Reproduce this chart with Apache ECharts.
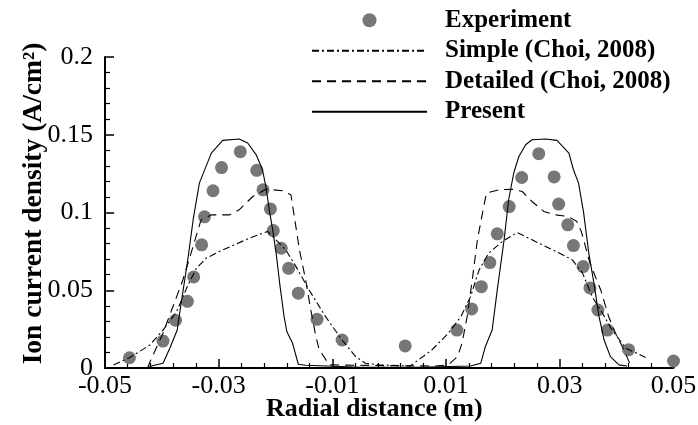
<!DOCTYPE html>
<html>
<head>
<meta charset="utf-8">
<script src="https://cdn.jsdelivr.net/npm/echarts@6/dist/echarts.min.js"></script>
<style>
  html, body { margin: 0; padding: 0; background: #fff; }
  #chart { width: 698px; height: 425px; }
</style>
</head>
<body>
<div id="chart"></div>
<script>
// Radial profile of ion current density: measurement vs. three models.
const seriesNames = ['Experiment', 'Simple (Choi, 2008)', 'Detailed (Choi, 2008)', 'Present'];

// Measured points [radial distance (m), current density (A/cm^2)]
const experiment = [
  [-0.0457, 0.0066], [-0.0398, 0.0173], [-0.0376, 0.0307], [-0.0355, 0.0429],
  [-0.0344, 0.0586], [-0.0330, 0.0792], [-0.0325, 0.0972], [-0.0310, 0.1140],
  [-0.0295, 0.1289], [-0.0262, 0.1391], [-0.0233, 0.1271], [-0.0222, 0.1146],
  [-0.0209, 0.1023], [-0.0204, 0.0884], [-0.0190, 0.0770], [-0.0177, 0.0641],
  [-0.0160, 0.0481], [-0.0127, 0.0313], [-0.0083, 0.0180], [0.0028, 0.0142],
  [0.0119, 0.0244], [0.0145, 0.0380], [0.0162, 0.0523], [0.0177, 0.0678],
  [0.0190, 0.0863], [0.0211, 0.1038], [0.0233, 0.1225], [0.0263, 0.1378],
  [0.0290, 0.1229], [0.0298, 0.1054], [0.0314, 0.0921], [0.0324, 0.0787],
  [0.0341, 0.0652], [0.0353, 0.0515], [0.0367, 0.0373], [0.0384, 0.0244],
  [0.0421, 0.0118], [0.0500, 0.0045]
];

// Simple model
const simpleModel = [
  [-0.0485, 0.0020], [-0.0457, 0.0066], [-0.0421, 0.0148], [-0.0398, 0.0244],
  [-0.0374, 0.0362], [-0.0354, 0.0534], [-0.0339, 0.0642], [-0.0322, 0.0706],
  [-0.0299, 0.0749], [-0.0246, 0.0835], [-0.0214, 0.0878], [-0.0205, 0.0845],
  [-0.0182, 0.0759], [-0.0164, 0.0652], [-0.0141, 0.0502], [-0.0112, 0.0330],
  [-0.0083, 0.0180], [-0.0059, 0.0073], [-0.0042, 0.0031], [-0.0018, 0.0020],
  [0.0037, 0.0013], [0.0075, 0.0116], [0.0104, 0.0224], [0.0126, 0.0330],
  [0.0143, 0.0459], [0.0158, 0.0630], [0.0175, 0.0739], [0.0199, 0.0814],
  [0.0225, 0.0871], [0.0257, 0.0814], [0.0299, 0.0739], [0.0322, 0.0695],
  [0.0340, 0.0610], [0.0357, 0.0459], [0.0375, 0.0353], [0.0392, 0.0244],
  [0.0416, 0.0127], [0.0451, 0.0068]
];

// Detailed model
const detailedModel = [
  [-0.0425, 0.0000], [-0.0421, 0.0039], [-0.0398, 0.0224], [-0.0363, 0.0566],
  [-0.0331, 0.0952], [-0.0313, 0.0985], [-0.0281, 0.0985], [-0.0264, 0.1017],
  [-0.0240, 0.1103], [-0.0217, 0.1150], [-0.0188, 0.1140], [-0.0173, 0.1114],
  [-0.0167, 0.0974], [-0.0158, 0.0759], [-0.0147, 0.0566], [-0.0138, 0.0373],
  [-0.0129, 0.0202], [-0.0123, 0.0116], [-0.0115, 0.0073], [-0.0106, 0.0020],
  [0.0000, 0.0015], [0.0081, 0.0013], [0.0104, 0.0020], [0.0120, 0.0073],
  [0.0128, 0.0159], [0.0137, 0.0330], [0.0146, 0.0566], [0.0155, 0.0824],
  [0.0164, 0.0996], [0.0171, 0.1125], [0.0193, 0.1146], [0.0216, 0.1150],
  [0.0234, 0.1135], [0.0251, 0.1071], [0.0272, 0.1007], [0.0292, 0.0985],
  [0.0315, 0.0974], [0.0330, 0.0942], [0.0338, 0.0876], [0.0353, 0.0674],
  [0.0372, 0.0502], [0.0386, 0.0330], [0.0398, 0.0224], [0.0410, 0.0137],
  [0.0418, 0.0073], [0.0423, 0.0031]
];

// Present model
const presentModel = [
  [-0.0422, 0.0010], [-0.0398, 0.0030], [-0.0386, 0.0127], [-0.0373, 0.0244],
  [-0.0366, 0.0417], [-0.0354, 0.0706], [-0.0345, 0.0952], [-0.0334, 0.1189],
  [-0.0313, 0.1382], [-0.0293, 0.1464], [-0.0264, 0.1473], [-0.0249, 0.1447],
  [-0.0234, 0.1371], [-0.0223, 0.1275], [-0.0217, 0.1167], [-0.0211, 0.1017],
  [-0.0205, 0.0888], [-0.0199, 0.0739], [-0.0192, 0.0523], [-0.0185, 0.0330],
  [-0.0180, 0.0233], [-0.0170, 0.0159], [-0.0160, 0.0024], [-0.0147, 0.0018],
  [-0.0050, 0.0005], [0.0050, 0.0005],
  [0.0143, 0.0013], [0.0161, 0.0031], [0.0169, 0.0137], [0.0181, 0.0244],
  [0.0190, 0.0502], [0.0202, 0.0824], [0.0210, 0.1082], [0.0219, 0.1254],
  [0.0228, 0.1360], [0.0240, 0.1436], [0.0251, 0.1468], [0.0275, 0.1473],
  [0.0295, 0.1464], [0.0316, 0.1382], [0.0324, 0.1275], [0.0333, 0.1189],
  [0.0342, 0.0996], [0.0351, 0.0739], [0.0360, 0.0546], [0.0369, 0.0330],
  [0.0378, 0.0180], [0.0389, 0.0073], [0.0404, 0.0020], [0.0418, 0.0013]
];

// Axis ranges and tick steps
const xRange = [-0.05, 0.05];
const xStep = 0.02;
const yRange = [0, 0.2];
const yStep = 0.05;

const FONT = '"Liberation Serif", "DejaVu Serif", serif';

const chart = echarts.init(document.getElementById('chart'), null, { renderer: 'canvas' });

const lineSeries = (name, data, dash) => ({
  name,
  type: 'line',
  data,
  symbol: 'none',
  symbolSize: 0,
  showSymbol: false,
  smooth: false,
  lineStyle: { color: '#000', width: 1.1, type: dash },
  itemStyle: { color: '#000' },
  z: 3
});

// Legend rows: the lines carry no marker
const legendItems = seriesNames.map((name, i) => i === 0
  ? { name }
  : { name, itemStyle: { color: 'rgba(0,0,0,0)', borderColor: 'rgba(0,0,0,0)', borderWidth: 0 } });

chart.setOption({
  animation: false,
  backgroundColor: '#fff',
  grid: { left: 105, right: 24.5, top: 57, bottom: 57, containLabel: false, outerBoundsMode: 'none' },
  legend: {
    data: legendItems,
    orient: 'vertical',
    left: 306,
    top: 0,
    itemWidth: 115,
    itemHeight: 14,
    itemGap: 0,
    textStyle: {
      fontFamily: FONT,
      fontWeight: 'bold',
      fontSize: 25,
      color: '#000',
      lineHeight: 30.5,
      padding: [0, 0, 0, 13]
    }
  },
  xAxis: {
    type: 'value',
    min: xRange[0],
    max: xRange[1],
    interval: xStep,
    name: 'Radial distance (m)',
    nameLocation: 'middle',
    nameGap: 28,
    nameMoveOverlap: false,
    nameTextStyle: {
      fontFamily: FONT, fontWeight: 'bold', fontSize: 26, color: '#000',
      padding: [0, 30, 0, 0]
    },
    axisLine: { show: true, onZero: false, lineStyle: { color: '#000', width: 2 } },
    axisTick: { show: true, inside: true, length: 9, lineStyle: { color: '#000', width: 1.5 } },
    minorTick: { show: true, splitNumber: 5, length: 5, lineStyle: { color: '#000', width: 1.2 } },
    splitLine: { show: false },
    axisLabel: {
      fontFamily: FONT, fontSize: 26, color: '#000', margin: 5,
      formatter: v => v.toFixed(2)
    }
  },
  yAxis: {
    type: 'value',
    min: yRange[0],
    max: yRange[1],
    interval: yStep,
    name: 'Ion current density (A/cm²)',
    nameLocation: 'middle',
    nameGap: 57,
    nameRotate: 90,
    nameMoveOverlap: false,
    nameTextStyle: {
      fontFamily: FONT, fontWeight: 'bold', fontSize: 27.5, color: '#000',
      padding: [0, 0, 0, 18]
    },
    axisLine: { show: true, onZero: false, lineStyle: { color: '#000', width: 2 } },
    axisTick: { show: true, inside: true, length: 9, lineStyle: { color: '#000', width: 1.5 } },
    minorTick: { show: true, splitNumber: 5, length: 5, lineStyle: { color: '#000', width: 1.2 } },
    splitLine: { show: false },
    axisLabel: {
      fontFamily: FONT, fontSize: 26, color: '#000', margin: 12,
      formatter: v => (v === 0 ? '0' : String(+v.toFixed(2)))
    }
  },
  series: [
    {
      name: seriesNames[0],
      type: 'scatter',
      data: experiment,
      symbol: 'circle',
      symbolSize: 13,
      itemStyle: { color: '#777777', opacity: 1 },
      z: 2
    },
    lineSeries(seriesNames[1], simpleModel, [7, 3, 2, 3]),
    lineSeries(seriesNames[2], detailedModel, [9, 6]),
    lineSeries(seriesNames[3], presentModel, 'solid')
  ]
});
</script>
</body>
</html>
